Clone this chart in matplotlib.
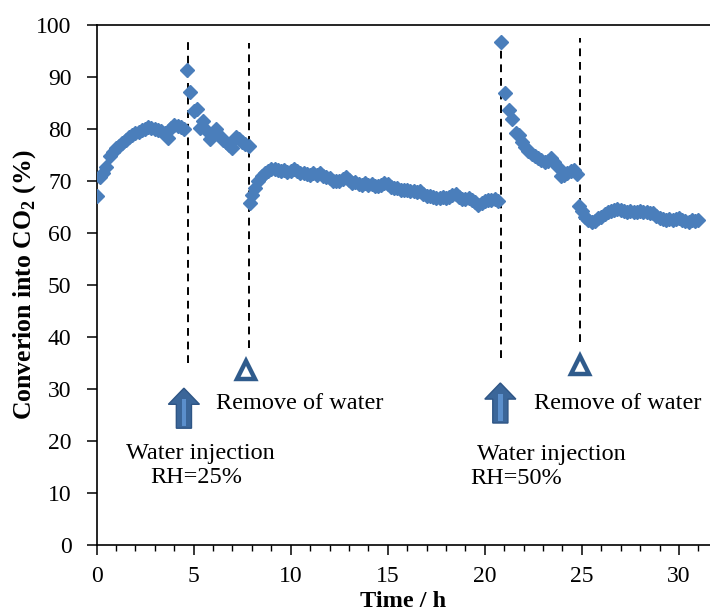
import matplotlib
matplotlib.use("Agg")
import matplotlib.pyplot as plt
from matplotlib.patches import FancyArrow, Rectangle
from matplotlib.ticker import MultipleLocator

plt.rcParams["font.family"] = ["Liberation Serif", "DejaVu Serif"]
plt.rcParams["mathtext.fontset"] = "custom"
plt.rcParams["mathtext.bf"] = "Liberation Serif:bold"
plt.rcParams["mathtext.rm"] = "Liberation Serif"

# time (h) and conversion into CO2 (%)
time_h = [
    0.0, 0.17, 0.33, 0.5, 0.67, 0.83, 1.0, 1.17, 1.33, 1.5, 1.67, 1.83, 2.0, 2.17,
    2.33, 2.5, 2.67, 2.83, 3.0, 3.17, 3.33, 3.5, 3.67, 3.83, 4.0, 4.17, 4.33, 4.5,
    4.67, 4.83, 5.0, 5.17, 5.33, 5.5, 5.67, 5.83, 6.0, 6.17, 6.33, 6.5, 6.67, 6.83,
    7.0, 7.17, 7.33, 7.5, 7.67, 7.83,
    7.9, 8.0, 8.17, 8.33, 8.5, 8.67, 8.83, 9.0, 9.17, 9.33, 9.5, 9.67, 9.83, 10.0,
    10.17, 10.33, 10.5, 10.67, 10.83, 11.0, 11.17, 11.33, 11.5, 11.67, 11.83, 12.0,
    12.17, 12.33, 12.5, 12.67, 12.83, 13.0, 13.17, 13.33, 13.5, 13.67, 13.83, 14.0,
    14.17, 14.33, 14.5, 14.67, 14.83, 15.0, 15.17, 15.33, 15.5, 15.67, 15.83, 16.0,
    16.17, 16.33, 16.5, 16.67, 16.83, 17.0, 17.17, 17.33, 17.5, 17.67, 17.83, 18.0,
    18.17, 18.33, 18.5, 18.67, 18.83, 19.0, 19.17, 19.33, 19.5, 19.67, 19.83, 20.0,
    20.17, 20.33, 20.5, 20.67,
    20.85, 21.05, 21.25, 21.42, 21.6, 21.75, 21.92, 22.08, 22.25, 22.42, 22.58, 22.75,
    22.92, 23.08, 23.25, 23.42, 23.58, 23.75, 23.92, 24.08, 24.25, 24.42, 24.58, 24.75,
    24.85, 25.0, 25.17, 25.33, 25.5, 25.67, 25.83, 26.0, 26.17, 26.33, 26.5, 26.67,
    26.83, 27.0, 27.17, 27.33, 27.5, 27.67, 27.83, 28.0, 28.17, 28.33, 28.5, 28.67,
    28.83, 29.0, 29.17, 29.33, 29.5, 29.67, 29.83, 30.0, 30.17, 30.33, 30.5, 30.67,
    30.83, 31.0,
]
conversion = [
    67.2, 70.8, 71.5, 72.8, 74.8, 75.6, 76.3, 76.8, 77.3, 77.9, 78.5, 78.9, 79.3, 79.5,
    79.8, 80.1, 80.4, 80.3, 80.0, 79.8, 79.6, 79.2, 78.3, 80.2, 80.8, 80.6, 80.4, 80.0,
    91.3, 87.1, 83.5, 83.8, 80.2, 81.5, 79.6, 78.2, 79.0, 80.0, 78.8, 78.0, 77.6, 77.0,
    76.3, 78.5, 78.2, 77.6, 77.2, 76.8,
    65.8, 67.3, 68.6, 70.0, 71.0, 71.6, 72.0, 72.4, 72.3, 72.2, 72.0, 72.2, 71.8, 72.0,
    72.4, 71.9, 71.5, 71.6, 71.3, 71.2, 71.5, 71.2, 71.5, 71.0, 70.8, 70.6,
    70.0, 70.1, 70.0, 70.4, 70.9, 70.2, 69.7, 69.8, 69.5, 69.3, 69.6, 69.3,
    69.4, 69.0, 69.0, 69.2, 69.6, 69.4, 68.9, 68.7, 68.6, 68.4, 68.3, 68.4,
    68.2, 68.2, 68.0, 68.1, 67.6, 67.2, 67.1, 67.0, 66.8, 66.7, 67.0, 66.8,
    67.0, 67.4, 67.6, 66.9, 66.5, 66.5, 66.7, 66.4, 66.0, 65.5, 65.8, 66.2,
    66.4, 66.3, 66.6, 66.2,
    96.8, 87.0, 83.6, 82.0, 79.2, 78.8, 77.5, 76.5, 75.8, 75.2, 74.8, 74.4,
    74.0, 73.7, 73.8, 74.4, 73.6, 72.8, 71.0, 71.2, 71.5, 72.0, 72.2, 71.3,
    65.2, 64.3, 63.2, 62.5, 62.2, 62.4, 62.9, 63.2, 63.6, 64.0, 64.2, 64.5,
    64.7, 64.4, 64.2, 64.1, 64.2, 64.1, 64.0, 64.2, 64.0, 64.0, 63.9, 63.8,
    63.4, 63.0, 62.7, 62.6, 62.8, 62.6, 62.8, 62.9, 62.5, 62.4, 62.2, 62.5,
    62.4, 62.6,
]

# event lines: (time, bottom, top)
event_t = [4.7, 7.85, 20.85, 24.9]
event_lo = [35, 38, 36, 39]
event_hi = [97.5, 96.5, 98, 97.5]

# water injection arrows and water removal markers
inject_t = [4.5, 20.8]
inject_y = [22.5, 23.5]
remove_t = [7.7, 24.9]
remove_y = [33.7, 34.6]

fig = plt.figure(figsize=(7.1, 6.14), dpi=100)
ax = fig.add_axes([0.136, 0.112, 0.864, 0.847])

ax.plot(time_h, conversion, "D", color="#4A7EBB", ms=6.8, mec="#4A7EBB", zorder=3)

for t, lo, hi in zip(event_t, event_lo, event_hi):
    ax.plot([t, t], [lo, hi], color="black", lw=1.4, ls=(0, (4, 3)), zorder=2)

for t, y in zip(inject_t, inject_y):
    ax.add_patch(FancyArrow(t, y, 0, 7.7, width=0.78, head_width=1.6, head_length=3.1,
                            length_includes_head=True, fc="#3B6699", ec="#2E5585", lw=1.0,
                            zorder=4))
    ax.add_patch(Rectangle((t - 0.12, y + 0.4), 0.24, 5.2, fc="#5B8FCC", ec="none", zorder=5))

ax.plot(remove_t, remove_y, "^", ms=13, mfc="white", mec="#2F5B8C", mew=3.2, zorder=4)

note = dict(fontsize=17.5, va="center")
ax.text(6.15, 27.3, "Remove of water", ha="left", **note)
ax.text(22.55, 27.3, "Remove of water", ha="left", **note)
ax.text(5.35, 17.7, "Water injection", ha="center", **note)
ax.text(5.13, 13.1, "RH=25%", ha="center", **note)
ax.text(23.45, 17.5, "Water injection", ha="center", **note)
ax.text(21.6, 12.9, "RH=50%", ha="center", **note)

ax.set_xlim(0, 31.6)
ax.set_ylim(0, 100)
ax.xaxis.set_major_locator(MultipleLocator(5))
ax.xaxis.set_minor_locator(MultipleLocator(1))
ax.yaxis.set_major_locator(MultipleLocator(10))
ax.tick_params(axis="both", which="major", direction="out", length=7, width=1.1,
               labelsize=17)
ax.tick_params(axis="x", which="major", pad=8)
ax.tick_params(axis="y", which="major", pad=11)
ax.tick_params(axis="x", which="minor", direction="out", length=4.5, width=1.0)
ax.spines["right"].set_visible(False)
for s in ["left", "bottom", "top"]:
    ax.spines[s].set_linewidth(1.2)

fig.text(403 / 710, 1 - 607 / 614, "Time / h", fontsize=17.5, fontweight="bold",
         ha="center", va="baseline")
fig.text(25 / 710, 1 - 285 / 614, r"Converion into CO$_\mathbf{2}$ (%)", fontsize=18.5,
         fontweight="bold", rotation=90, ha="center", va="center")

fig.savefig("out.png", dpi=100)
